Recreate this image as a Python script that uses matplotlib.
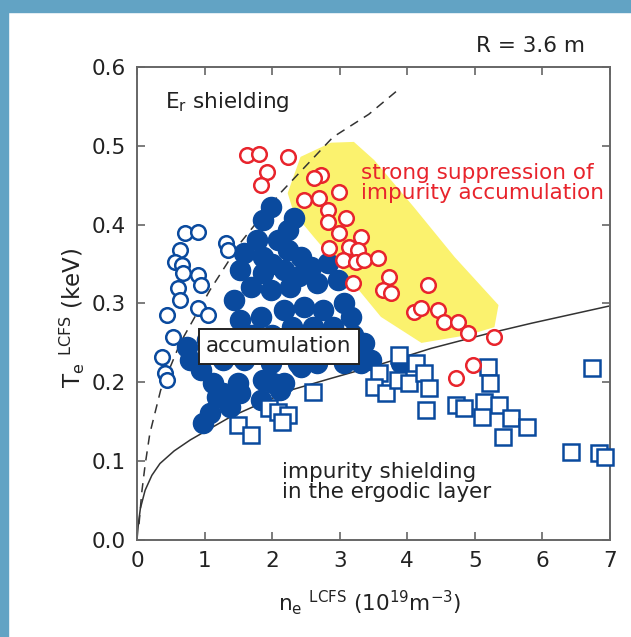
import matplotlib
matplotlib.use("Agg")
import matplotlib.pyplot as plt
from matplotlib.patches import Polygon, Rectangle

plt.rcParams['font.family'] = ['DejaVu Sans']
plt.rcParams['mathtext.fontset'] = 'dejavusans'

BLUE = '#0a4a9e'
RED = '#e8242c'
YELLOW = '#fbf26e'
BORDER = '#62a3c4'
INK = '#222222'

# blue filled circles (accumulation)
filled_x = [1.98, 1.87, 2.32, 2.23, 1.78, 2.08, 1.58, 1.87, 2.23, 2.42, 1.53, 1.87, 2.17, 2.57,
            2.82, 1.43, 1.68, 1.98, 2.27, 2.67, 2.97, 3.06, 1.53, 1.83, 2.17, 2.47, 2.76, 3.16,
            0.74, 1.04, 3.36, 3.46, 0.79, 0.94, 1.28, 1.58, 1.98, 2.38, 2.67, 3.06, 1.13, 1.49,
            1.87, 2.17, 1.19, 1.53, 1.08, 0.98, 1.38, 1.83, 2.42, 3.31, 3.91, 2.02, 2.12, 1.28,
            2.40, 2.00, 2.60, 2.90, 2.30, 1.70, 2.00, 2.40, 2.80, 3.20]
filled_y = [0.422, 0.406, 0.408, 0.393, 0.381, 0.381, 0.364, 0.359, 0.368, 0.359, 0.343, 0.339,
            0.343, 0.346, 0.351, 0.304, 0.321, 0.317, 0.321, 0.326, 0.330, 0.301, 0.279, 0.283,
            0.292, 0.296, 0.292, 0.283, 0.245, 0.254, 0.250, 0.228, 0.228, 0.216, 0.228, 0.228,
            0.225, 0.225, 0.225, 0.225, 0.199, 0.199, 0.203, 0.199, 0.181, 0.186, 0.161, 0.148,
            0.169, 0.178, 0.219, 0.225, 0.225, 0.199, 0.190, 0.186, 0.335, 0.350, 0.270, 0.270,
            0.270, 0.260, 0.260, 0.255, 0.255, 0.260]

# blue open circles (E_r shielding)
open_x = [0.71, 0.91, 0.64, 0.56, 0.67, 0.68, 0.91, 0.94, 0.61, 0.64, 0.45, 0.91, 1.05, 0.53,
          0.37, 0.42, 0.45, 1.31, 1.34]
open_y = [0.389, 0.391, 0.368, 0.353, 0.349, 0.339, 0.336, 0.323, 0.320, 0.304, 0.285, 0.294,
          0.285, 0.258, 0.232, 0.212, 0.203, 0.377, 0.368]

# blue open squares (impurity shielding)
sq_x = [1.49, 1.68, 1.95, 2.08, 2.24, 2.15, 2.60, 3.88, 4.13, 3.58, 3.51, 3.68, 3.86, 4.03,
        4.25, 4.32, 4.28, 4.72, 4.84, 5.20, 5.22, 5.14, 5.36, 5.10, 5.54, 5.77, 5.42, 6.73,
        6.43, 6.84, 6.92]
sq_y = [0.146, 0.133, 0.167, 0.162, 0.159, 0.150, 0.188, 0.235, 0.225, 0.212, 0.194, 0.186,
        0.203, 0.199, 0.212, 0.193, 0.165, 0.171, 0.167, 0.219, 0.199, 0.175, 0.171, 0.156,
        0.155, 0.143, 0.131, 0.218, 0.112, 0.110, 0.105]

# red open circles (suppression)
red_x = [1.63, 1.80, 2.23, 1.93, 1.83, 2.72, 2.62, 2.99, 2.47, 2.69, 2.82, 3.09, 2.82, 2.99,
         3.31, 3.14, 2.84, 3.27, 3.05, 3.24, 3.36, 3.57, 3.19, 3.73, 3.64, 3.76, 4.31, 4.10,
         4.21, 4.46, 4.55, 4.75, 4.90, 5.29, 4.98, 4.72]
red_y = [0.488, 0.490, 0.486, 0.467, 0.450, 0.463, 0.459, 0.441, 0.431, 0.434, 0.419, 0.408,
         0.403, 0.389, 0.384, 0.372, 0.370, 0.368, 0.355, 0.353, 0.355, 0.358, 0.326, 0.334,
         0.317, 0.313, 0.323, 0.289, 0.294, 0.292, 0.277, 0.277, 0.263, 0.258, 0.222, 0.206]

# boundary curves
dash_x = [0.03, 0.07, 0.12, 0.19, 0.35, 0.64, 1.08, 1.53, 2.12, 2.90, 3.43, 3.85]
dash_y = [0.020, 0.060, 0.095, 0.135, 0.190, 0.250, 0.317, 0.377, 0.440, 0.511, 0.540, 0.570]
solid_x = [0.0, 0.02, 0.05, 0.12, 0.22, 0.34, 0.55, 0.79, 1.38, 2.27, 2.87, 3.57, 4.35, 5.20,
           5.84, 7.0]
solid_y = [0.0, 0.020, 0.040, 0.063, 0.082, 0.097, 0.113, 0.127, 0.156, 0.190, 0.205, 0.222,
           0.243, 0.262, 0.275, 0.297]

# shaded region
yellow_x = [2.23, 2.42, 2.87, 3.21, 3.51, 4.10, 4.70, 5.35, 5.29, 4.90, 4.21, 3.61, 3.12, 2.62, 2.32]
yellow_y = [0.440, 0.486, 0.504, 0.505, 0.482, 0.422, 0.359, 0.298, 0.270, 0.260, 0.250, 0.283,
            0.334, 0.384, 0.415]

fig = plt.figure(figsize=(6.31, 6.37), dpi=100)
fig.add_artist(Rectangle((0, 1 - 12 / 637), 1, 12 / 637, transform=fig.transFigure,
                         color=BORDER, zorder=0))
fig.add_artist(Rectangle((0, 0), 8 / 631, 1, transform=fig.transFigure,
                         color=BORDER, zorder=0))

ax = fig.add_axes([0.2171, 0.1523, 0.7496, 0.7425])
ax.add_patch(Polygon(list(zip(yellow_x, yellow_y)), closed=True, facecolor=YELLOW,
                     edgecolor='none', zorder=1, joinstyle='round'))
ax.plot(dash_x, dash_y, color='#333333', lw=1.1, dashes=(6, 4.5), zorder=2)
ax.plot(solid_x, solid_y, color='#333333', lw=1.1, zorder=2)

ax.plot(filled_x, filled_y, 'o', ms=14.5, color=BLUE, mec=BLUE, zorder=3)
ax.plot(open_x, open_y, 'o', ms=10.5, mfc='white', mec=BLUE, mew=1.8, zorder=3)
ax.plot(sq_x, sq_y, 's', ms=11, mfc='white', mec=BLUE, mew=1.8, zorder=3, clip_on=False)
ax.plot(red_x, red_y, 'o', ms=10.5, mfc='white', mec=RED, mew=1.8, zorder=4)

ax.set_xlim(0, 7)
ax.set_ylim(0, 0.6)
ax.set_xticks(range(0, 8))
ax.set_yticks([0.0, 0.1, 0.2, 0.3, 0.4, 0.5, 0.6])
ax.set_yticklabels(['0.0', '0.1', '0.2', '0.3', '0.4', '0.5', '0.6'])
ax.tick_params(direction='in', top=True, right=True, length=6, width=1.2, color='#666666',
               labelsize=15.5, labelcolor=INK, pad=8)
for s in ax.spines.values():
    s.set_color('#666666')
    s.set_linewidth(1.4)

ax.text(0.42, 0.555, r'E$_\mathregular{r}$ shielding', fontsize=15.5, color=INK,
        ha='left', va='center', zorder=5)
ax.text(3.31, 0.453, 'strong suppression of\nimpurity accumulation', fontsize=15.5,
        color=RED, ha='left', va='center', linespacing=1.0, zorder=5)
ax.text(2.10, 0.246, 'accumulation', fontsize=15.5, color=INK, ha='center', va='center',
        zorder=6, bbox=dict(boxstyle='square,pad=0.35', facecolor='white',
                            edgecolor='#222222', linewidth=1.4))
ax.text(2.15, 0.0736, 'impurity shielding\nin the ergodic layer', fontsize=15.5, color=INK,
        ha='left', va='center', linespacing=1.0, zorder=5)

fig.text(585 / 631, 1 - 52 / 637, 'R = 3.6 m', fontsize=15.5, color=INK, ha='right',
         va='baseline')
fig.text(370 / 631, 1 - 611 / 637,
         r'n$_\mathregular{e}$ $^\mathregular{LCFS}$ (10$^\mathregular{19}$m$^\mathregular{-3}$)',
         fontsize=15.5, color=INK, ha='center', va='baseline')
fig.text(72 / 631, 1 - 318 / 637,
         r'T$_\mathregular{e}$ $^\mathregular{LCFS}$ (keV)',
         fontsize=16.5, color=INK, ha='center', va='center', rotation=90)

fig.savefig('out.png', dpi=100, facecolor='white')
